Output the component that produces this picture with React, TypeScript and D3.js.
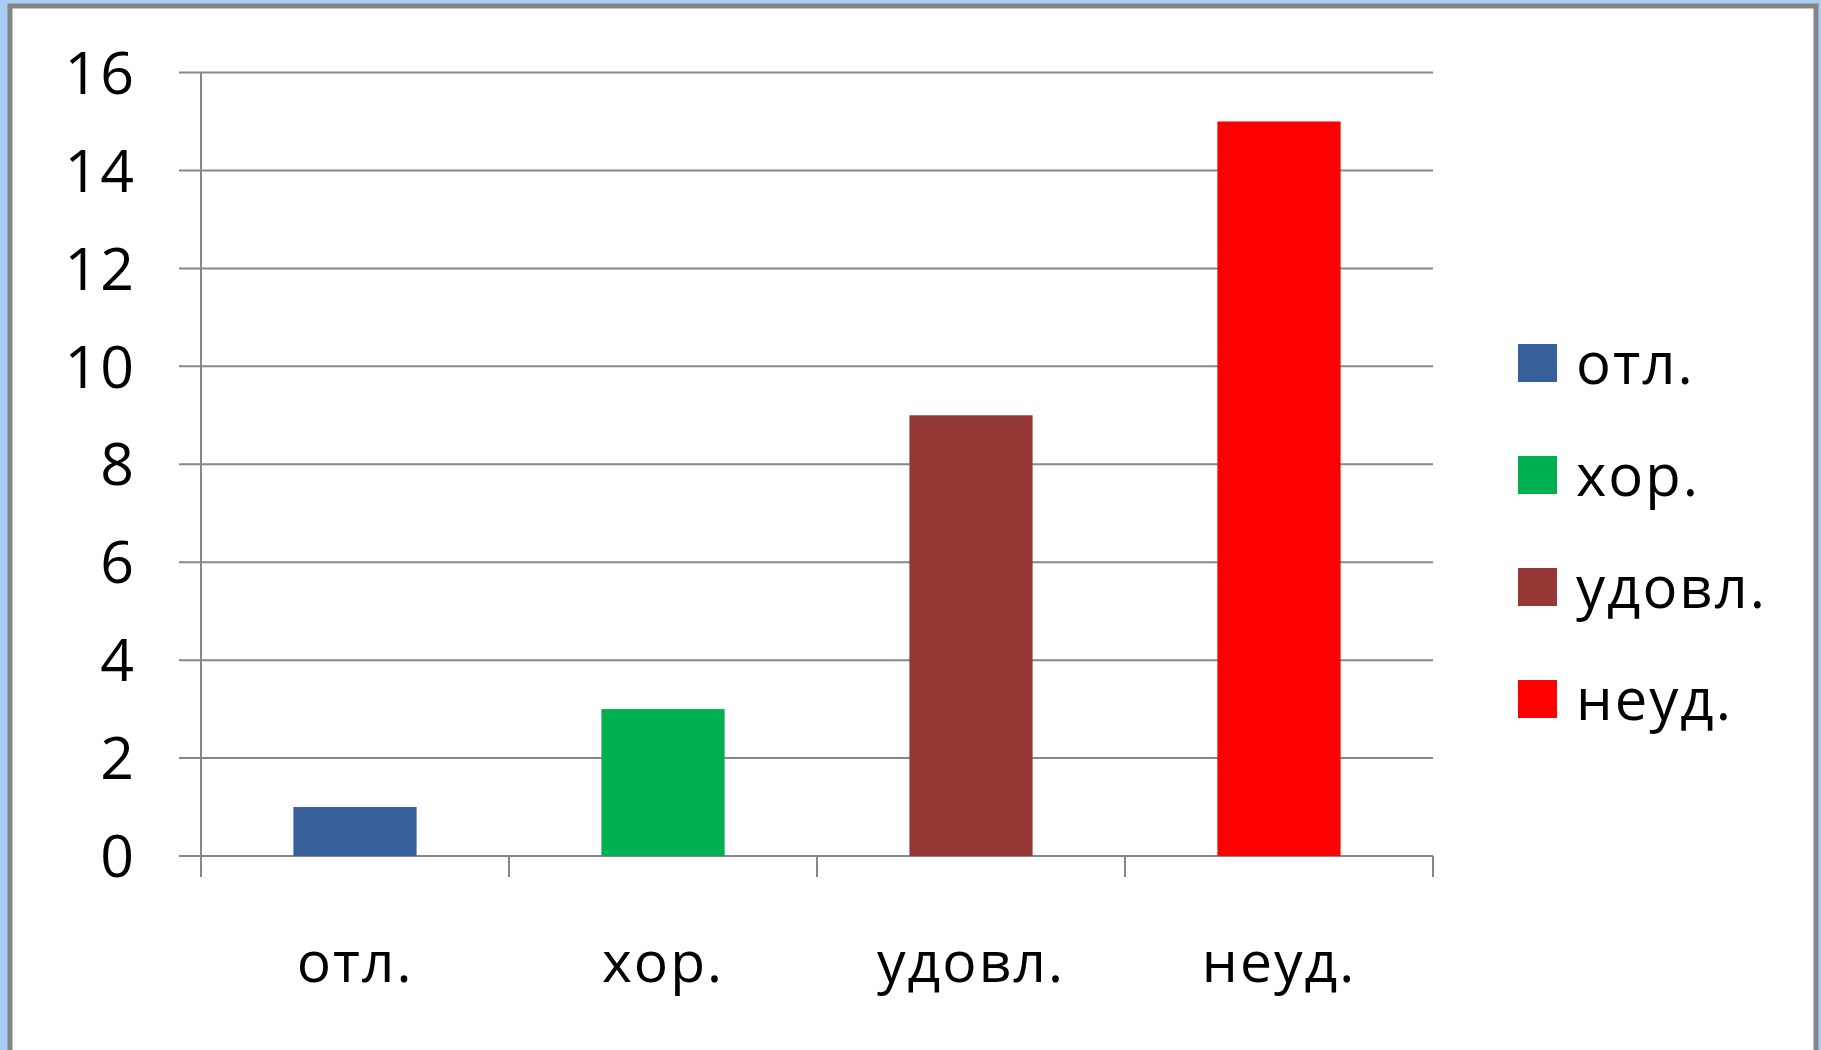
import React, { useEffect, useRef } from 'react'
import * as d3 from 'd3'

const categories = ['отл.', 'хор.', 'удовл.', 'неуд.']
const values = [1, 3, 9, 15]
const colors = ['#37609A', '#00B050', '#953735', '#FF0000']
const yTicks = [0, 2, 4, 6, 8, 10, 12, 14, 16]

export default function App() {
  const svgRef = useRef<SVGSVGElement>(null)

  useEffect(() => {
    if (!svgRef.current) return
    const svg = d3.select(svgRef.current)
    svg.selectAll('*').remove()

    const W = 1821
    const H = 1050
    const font = '"Open Sans", Lato, sans-serif'

    // page background + frame
    svg.append('rect').attr('width', W).attr('height', H).attr('fill', '#AACDF5')
    svg.append('rect')
      .attr('x', 10).attr('y', 6)
      .attr('width', 1806).attr('height', H)
      .attr('fill', '#fff')
      .attr('stroke', '#858585')
      .attr('stroke-width', 5)

    // plot area
    const left = 201, right = 1433, top = 72.5, bottom = 856

    const x = d3.scaleBand<string>()
      .domain(categories)
      .range([left, right])
      .paddingInner(0.6)
      .paddingOuter(0.3)

    const xEdges = d3.scaleLinear().domain([0, categories.length]).range([left, right])

    const y = d3.scaleLinear().domain([0, 16]).range([bottom, top])

    const g = svg.append('g')

    // gridlines
    g.selectAll('.grid')
      .data(yTicks)
      .enter()
      .append('line')
      .attr('x1', left - 22)
      .attr('x2', right)
      .attr('y1', d => y(d))
      .attr('y2', d => y(d))
      .attr('stroke', '#878787')
      .attr('stroke-width', 2)

    // y axis line
    g.append('line')
      .attr('x1', left).attr('x2', left)
      .attr('y1', top).attr('y2', bottom + 21)
      .attr('stroke', '#878787')
      .attr('stroke-width', 2)

    // x category ticks
    g.selectAll('.xtick')
      .data(d3.range(1, categories.length + 1))
      .enter()
      .append('line')
      .attr('x1', d => xEdges(d))
      .attr('x2', d => xEdges(d))
      .attr('y1', bottom)
      .attr('y2', bottom + 21)
      .attr('stroke', '#878787')
      .attr('stroke-width', 2)

    // bars
    g.selectAll('.bar')
      .data(values)
      .enter()
      .append('rect')
      .attr('x', (_, i) => x(categories[i]) as number)
      .attr('width', x.bandwidth())
      .attr('y', d => y(d))
      .attr('height', d => bottom - y(d))
      .attr('fill', (_, i) => colors[i])

    // y labels
    g.selectAll('.ylab')
      .data(yTicks)
      .enter()
      .append('text')
      .attr('x', 136)
      .attr('y', d => y(d))
      .attr('dy', '0.36em')
      .attr('text-anchor', 'end')
      .style('font-family', font)
      .style('font-size', '59px')
      .style('letter-spacing', '2px')
      .attr('fill', '#000')
      .text(d => d)

    // x labels
    g.selectAll('.xlab')
      .data(categories)
      .enter()
      .append('text')
      .attr('x', d => (x(d) as number) + x.bandwidth() / 2)
      .attr('y', 982)
      .attr('text-anchor', 'middle')
      .style('font-family', font)
      .style('font-size', '57px')
      .style('letter-spacing', '2px')
      .attr('fill', '#000')
      .text(d => d)

    // legend
    const legend = svg.append('g').attr('transform', 'translate(1518, 344)')
    const item = legend.selectAll('.item')
      .data(categories)
      .enter()
      .append('g')
      .attr('transform', (_, i) => `translate(0, ${i * 112})`)

    item.append('rect')
      .attr('width', 39)
      .attr('height', 38)
      .attr('fill', (_, i) => colors[i])

    item.append('text')
      .attr('x', 58)
      .attr('y', 40)
      .style('font-family', font)
      .style('font-size', '58px')
      .style('letter-spacing', '2px')
      .attr('fill', '#000')
      .text(d => d)
  }, [])

  return (
    <>
      <style>{'body{margin:0;overflow:hidden}'}</style>
      <svg ref={svgRef} width={1821} height={1050} style={{ display: 'block' }} />
    </>
  )
}
